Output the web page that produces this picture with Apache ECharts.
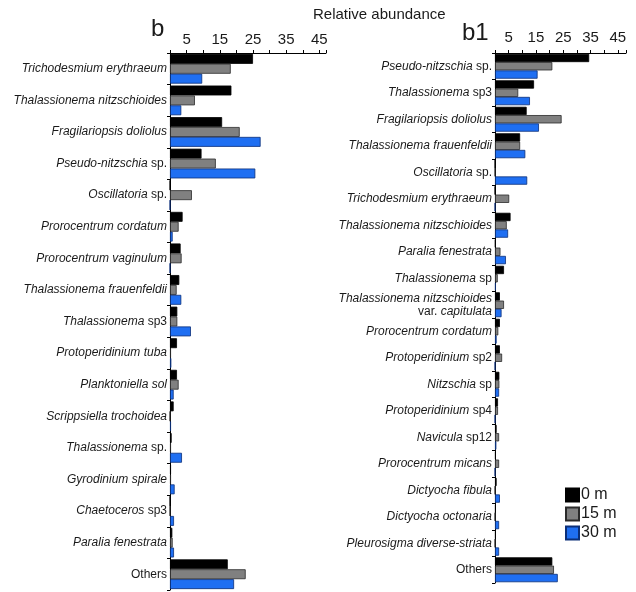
<!DOCTYPE html>
<html><head><meta charset="utf-8">
<script src="https://cdn.jsdelivr.net/npm/echarts@6/dist/echarts.min.js"></script>
<style>html,body{margin:0;padding:0;background:#fff}#c{width:636px;height:592px}</style>
</head><body><div id="c"></div>
<script>
// Panel b
const catsB = ['Trichodesmium erythraeum','Thalassionema nitzschioides','Fragilariopsis doliolus','Pseudo-nitzschia sp.','Oscillatoria sp.','Prorocentrum cordatum','Prorocentrum vaginulum','Thalassionema frauenfeldii','Thalassionema sp3','Protoperidinium tuba','Planktoniella sol','Scrippsiella trochoidea','Thalassionema sp.','Gyrodinium spirale','Chaetoceros sp3','Paralia fenestrata','Others'];
const b0m  = [25, 18.5, 15.7, 9.5, 0, 3.8, 3.2, 2.8, 2.2, 2.1, 2.1, 1.1, 0.5, 0.3, 0, 0.7, 17.4];
const b15m = [18.3, 7.5, 21, 13.8, 6.6, 2.6, 3.5, 2, 2.2, 0.3, 2.6, 0, 0.3, 0.3, 0, 0.8, 22.8];
const b30m = [9.7, 3.4, 27.3, 25.7, 0, 0.8, 0, 3.4, 6.3, 0.4, 1.1, 0.3, 3.6, 1.4, 1.2, 1.2, 19.3];
// Panel b1
const catsB1 = ['Pseudo-nitzschia sp.','Thalassionema sp3','Fragilariopsis doliolus','Thalassionema frauenfeldii','Oscillatoria sp.','Trichodesmium erythraeum','Thalassionema nitzschioides','Paralia fenestrata','Thalassionema sp','Thalassionema nitzschioides\nvar. capitulata','Prorocentrum cordatum','Protoperidinium sp2','Nitzschia sp','Protoperidinium sp4','Navicula sp12','Prorocentrum micans','Dictyocha fibula','Dictyocha octonaria','Pleurosigma diverse-striata','Others'];
const b1_0m  = [34.5, 14.3, 11.6, 9.2, 0, 0, 5.7, 0.2, 3.3, 1.8, 1.8, 1.8, 1.6, 1.1, 0.6, 0.3, 0.6, 0.3, 0.3, 21];
const b1_15m = [21, 8.5, 24.4, 9.2, 0, 5.2, 4.3, 2, 1, 3.3, 1.2, 2.6, 1.6, 1.1, 1.5, 1.5, 0, 0, 0, 21.6];
const b1_30m = [15.6, 12.8, 16.1, 11.1, 11.8, 0, 4.8, 4, 0.3, 2.4, 0.6, 0, 1.5, 0, 0.5, 0, 1.8, 1.5, 1.5, 23];
const seriesNames = ['0 m','15 m','30 m'];
const xTickLabels = [5, 15, 25, 35, 45];

const colors = ['#000000','#808080','#1f6ff2'];
const borders = ['#000000','#2a2a2a','#0b2f78'];
const plain = /^(sp\.?|sp\d*|var\.|Others)$/;
function fmtLabel(v){
  return v.split('\n').map(line => line.split(' ').map(w => plain.test(w) ? '{n|'+w+'}' : '{i|'+w+'}').join('{n| }')).join('\n');
}
const rich = {
  i:{fontStyle:'italic',fontSize:12,fontFamily:'Liberation Sans',color:'#1a1a1a',lineHeight:13},
  n:{fontStyle:'normal',fontSize:12,fontFamily:'Liberation Sans',color:'#1a1a1a',lineHeight:13}
};
function xAx(grid, max, margin){
  return {type:'value', gridIndex:grid, position:'top', min:0, max:max, interval:5,
    axisLine:{show:true,lineStyle:{color:'#000',width:1}},
    axisTick:{show:true,length:3,lineStyle:{color:'#000'}},
    splitLine:{show:false},
    axisLabel:{margin:margin,fontSize:15,fontFamily:'Liberation Sans',color:'#1a1a1a',
      formatter:v => xTickLabels.indexOf(v) >= 0 ? String(v) : ''}};
}
function yAx(grid, cats){
  return {type:'category', gridIndex:grid, data:cats, inverse:true,
    axisLine:{show:true,lineStyle:{color:'#000',width:1}},
    axisTick:{show:true,length:3,lineStyle:{color:'#000'}},
    axisLabel:{margin:3,formatter:fmtLabel,rich:rich}};
}
function ser(i, grid, data){
  return {name:seriesNames[i], type:'bar', xAxisIndex:grid, yAxisIndex:grid, data:data,
    barGap:'0%', barCategoryGap:'6%',
    itemStyle:{color:colors[i],borderColor:borders[i],borderWidth:0.8}, animation:false};
}
const chart = echarts.init(document.getElementById('c'), null, {renderer:'canvas'});
chart.setOption({
  animation:false,
  title:[
    {text:'Relative abundance',left:313,top:7,padding:0,textStyle:{fontSize:15,fontWeight:'normal',fontFamily:'Liberation Sans',color:'#1a1a1a'}},
    {text:'b',left:151,top:17,padding:0,textStyle:{fontSize:24,fontWeight:'normal',fontFamily:'Liberation Sans',color:'#1a1a1a'}},
    {text:'b1',left:462,top:21,padding:0,textStyle:{fontSize:24,fontWeight:'normal',fontFamily:'Liberation Sans',color:'#1a1a1a'}}
  ],
  legend:{orient:'vertical',left:560,top:482,itemWidth:13,itemHeight:13,itemGap:3,icon:'rect',
    data:seriesNames,textStyle:{fontSize:16,fontFamily:'Liberation Sans',color:'#1a1a1a',padding:[0,0,0,-3]}},
  grid:[
    {left:170,top:53,width:156,bottom:2},
    {left:495,top:53,width:131,bottom:9}
  ],
  xAxis:[xAx(0,47,6), xAx(1,48,8)],
  yAxis:[yAx(0,catsB), yAx(1,catsB1)],
  series:[ser(0,0,b0m),ser(1,0,b15m),ser(2,0,b30m),ser(0,1,b1_0m),ser(1,1,b1_15m),ser(2,1,b1_30m)]
});
</script></body></html>
